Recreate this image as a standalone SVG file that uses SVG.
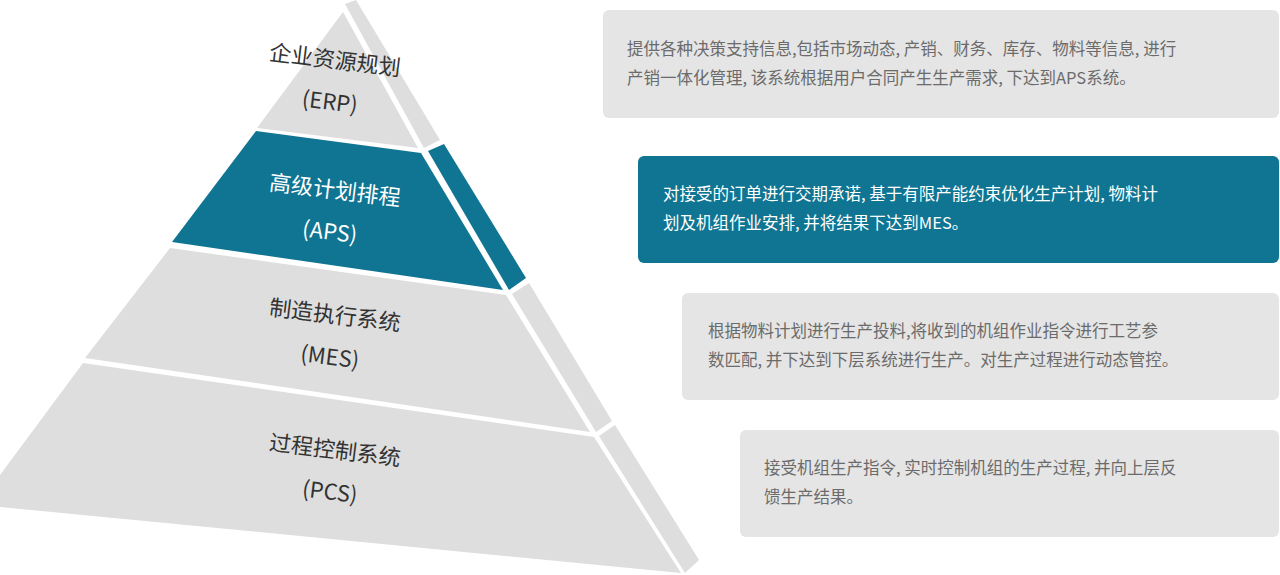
<svg xmlns="http://www.w3.org/2000/svg" width="1280" height="575" viewBox="0 0 1280 575">
<style>
.g{fill:#dedede}.t{fill:#0f7592}
.lbl{font-family:"Noto Sans CJK SC","Noto Sans",sans-serif;font-size:22px;fill:#333;text-anchor:middle}
.lw{fill:#fff}
.box{fill:#e5e5e5}
.d{font-family:"Noto Sans CJK SC","Noto Sans",sans-serif;font-size:16.5px;fill:#6b6b6b}
.dw{fill:#fff}
</style>
<rect width="1280" height="575" fill="#fff"/>
<g id="erp">
<polygon class="g" points="343,12 418,148 257,128"/>
<polygon class="g" points="345,4 356,0 440,140 424,148"/>
<text class="lbl" transform="rotate(7 335 60)"><tspan x="335" y="68">企业资源规划</tspan><tspan x="335" y="110">(ERP)</tspan></text>
</g>
<g id="aps">
<polygon class="t" points="256,131 421,153 503,290 172,242"/>
<polygon class="t" points="428,151 444,144 526,278 509,290"/>
<text class="lbl lw" transform="rotate(7 335 190)"><tspan x="335" y="198">高级计划排程</tspan><tspan x="335" y="240">(APS)</tspan></text>
</g>
<g id="mes">
<polygon class="g" points="170,248 506,295 590,432 85,358"/>
<polygon class="g" points="512,294 529,283 612,421 596,432"/>
<text class="lbl" transform="rotate(7 335 315)"><tspan x="335" y="323">制造执行系统</tspan><tspan x="335" y="365">(MES)</tspan></text>
</g>
<g id="pcs">
<polygon class="g" points="83,363 594,437 681,573 0,507 0,475"/>
<polygon class="g" points="599,436 615,425 699,560 685,573"/>
<text class="lbl" transform="rotate(7 335 450)"><tspan x="335" y="458">过程控制系统</tspan><tspan x="335" y="500">(PCS)</tspan></text>
</g>
<g id="desc-erp">
<rect class="box" x="603" y="10" width="676" height="108" rx="6"/>
<text class="d"><tspan x="627" y="55">提供各种决策支持信息,包括市场动态, 产销、财务、库存、物料等信息, 进行</tspan><tspan x="627" y="84">产销一体化管理, 该系统根据用户合同产生生产需求, 下达到APS系统。</tspan></text>
</g>
<g id="desc-aps">
<rect class="t" x="638" y="156" width="641" height="107" rx="6"/>
<text class="d dw"><tspan x="663" y="200">对接受的订单进行交期承诺, 基于有限产能约束优化生产计划, 物料计</tspan><tspan x="663" y="229">划及机组作业安排, 并将结果下达到MES。</tspan></text>
</g>
<g id="desc-mes">
<rect class="box" x="682" y="293" width="597" height="107" rx="6"/>
<text class="d"><tspan x="708" y="337">根据物料计划进行生产投料,将收到的机组作业指令进行工艺参</tspan><tspan x="708" y="366">数匹配, 并下达到下层系统进行生产。对生产过程进行动态管控。</tspan></text>
</g>
<g id="desc-pcs">
<rect class="box" x="740" y="430" width="539" height="107" rx="6"/>
<text class="d"><tspan x="764" y="474">接受机组生产指令, 实时控制机组的生产过程, 并向上层反</tspan><tspan x="764" y="503">馈生产结果。</tspan></text>
</g>
<g id="connectors"/>
</svg>
